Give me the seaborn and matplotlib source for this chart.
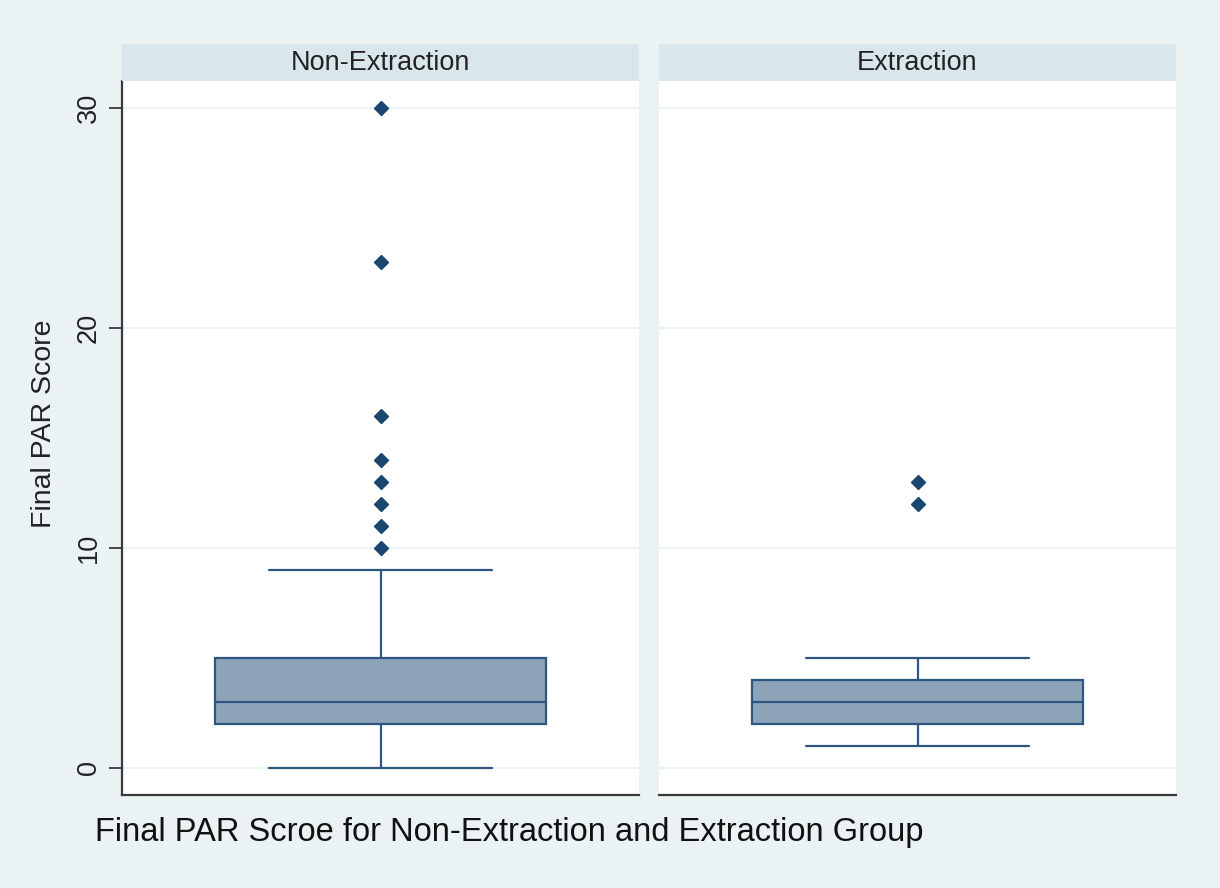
import numpy as np
import pandas as pd
import matplotlib.pyplot as plt
import seaborn as sns

# data (scores with their counts)
groups = ['Non-Extraction', 'Extraction']
non_ext_scores = [0, 1, 2, 3, 4, 5, 7, 9, 10, 11, 12, 13, 14, 16, 23, 30]
non_ext_counts = [1, 3, 9, 10, 4, 4, 1, 1, 1, 1, 1, 1, 1, 1, 1, 1]
ext_scores = [1, 2, 3, 4, 5, 12, 13]
ext_counts = [2, 5, 6, 4, 2, 1, 1]
y_ticks = [0, 10, 20, 30]

df = pd.DataFrame({
    'group': [groups[0]] * sum(non_ext_counts) + [groups[1]] * sum(ext_counts),
    'score': np.concatenate([np.repeat(non_ext_scores, non_ext_counts),
                             np.repeat(ext_scores, ext_counts)]),
})

sns.set_style('white')
plt.rcParams['font.family'] = ['Liberation Sans', 'DejaVu Sans']

bg = '#EAF2F3'
strip_col = '#D9E6EB'
box_fill = '#8DA3B8'
edge = '#2D5782'
dot = '#1A476F'
spine_col = '#3A3A3A'

W, H = 1220, 888
fig = plt.figure(figsize=(12.2, 8.88), dpi=100, facecolor=bg)
lefts = [122, 659]
width = 517

for i, (g, left) in enumerate(zip(groups, lefts)):
    ax = fig.add_axes([left / W, 93 / H, width / W, 714 / H])
    ax.set_facecolor('white')
    sns.boxplot(data=df[df.group == g], y='score', ax=ax, width=0.64,
                color=box_fill, saturation=1, linecolor=edge, linewidth=1.6,
                capwidths=0.43,
                flierprops=dict(marker='D', markersize=7, markerfacecolor=dot,
                                markeredgecolor=dot))
    ax.set_xlim(-0.5, 0.5)
    ax.set_ylim(-1.23, 31.23)
    ax.set_yticks(y_ticks)
    ax.set_xticks([])
    ax.set_xlabel('')
    ax.set_ylabel('')
    ax.grid(axis='y', color=bg, lw=1.5)
    ax.set_axisbelow(True)
    for s in ['top', 'right']:
        ax.spines[s].set_visible(False)
    ax.spines['bottom'].set_color(spine_col)
    ax.spines['bottom'].set_linewidth(1.6)
    if i == 0:
        ax.spines['left'].set_color(spine_col)
        ax.spines['left'].set_linewidth(1.6)
        ax.tick_params(axis='y', length=9.5, width=1.3, color=spine_col,
                       labelsize=19.5, pad=5, left=True, labelcolor='#222222')
        for t in ax.get_yticklabels():
            t.set_rotation(90)
            t.set_va('center')
    else:
        ax.spines['left'].set_visible(False)
        ax.tick_params(axis='y', length=0, labelleft=False)

    # strip header
    sax = fig.add_axes([left / W, (H - 81) / H, width / W, 37 / H])
    sax.set_facecolor(strip_col)
    sax.set_xticks([])
    sax.set_yticks([])
    for s in sax.spines.values():
        s.set_visible(False)
    sax.text(0.5, 0.5, g, ha='center', va='center', fontsize=19.5,
             color='#222222', transform=sax.transAxes)

fig.text(44 / W, (H - 424) / H, 'Final PAR Score', rotation=90,
         ha='center', va='center', fontsize=20.5, color='#222222')
fig.text(95 / W, (H - 832) / H,
         'Final PAR Scroe for Non-Extraction and Extraction Group',
         ha='left', va='center', fontsize=23.5, color='#111111')

fig.savefig('out.png', dpi=100, facecolor=bg)
